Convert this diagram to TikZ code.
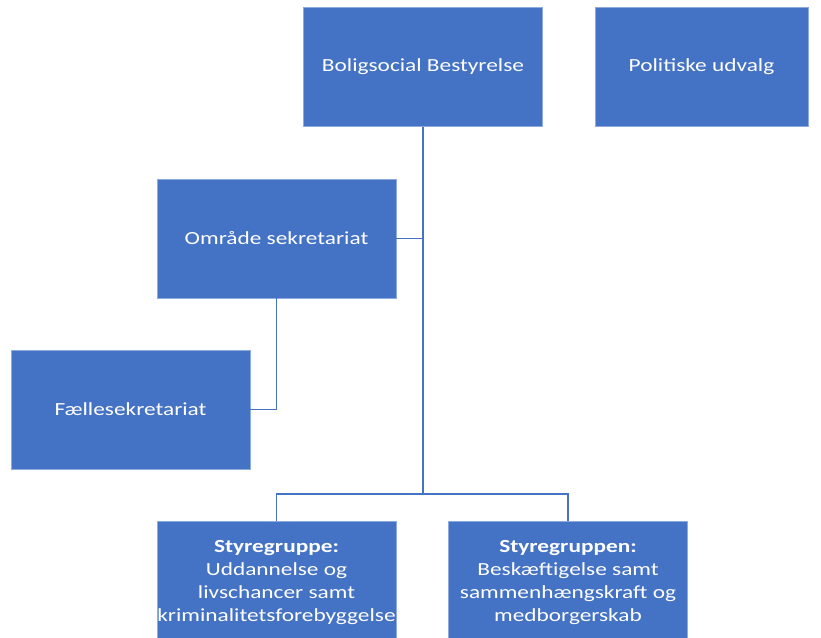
\documentclass[tikz,border=0pt]{standalone}
\usepackage{fontspec}
\setmainfont{Carlito}[FakeStretch=1.26]
\usepackage{tikz}
\definecolor{orgblue}{HTML}{4472C4}
\tikzset{unit/.style = {draw=orgblue!60!white, fill=orgblue, text=white, align=center, minimum width=239pt, minimum height=119pt, inner sep=0pt, font=\fontsize{18.5}{23}\selectfont}}
\tikzset{link/.style = {draw=orgblue, line width=1.5pt}}

\begin{document}
\begin{tikzpicture}[x=1pt, y=-1pt]
\useasboundingbox (0,0) rectangle (821,637);
\clip (0,0) rectangle (821,637);
\node[unit] (bolig) at (423,67) {Boligsocial Bestyrelse};
\node[unit, minimum width=213pt] (udvalg) at (701.5,67) {Politiske udvalg};
\node[unit] (omraade) at (276.5,238.5) {Område sekretariat};
\node[unit] (faelles) at (130.5,409.5) {Fællesekretariat};
\node[unit, anchor=north, minimum height=122pt] (sty1) at (276.5,521) {\textbf{Styregruppe:}\\Uddannelse og\\livschancer samt\\kriminalitetsforebyggelse};
\node[unit, anchor=north, minimum height=122pt] (sty2) at (568,521) {\textbf{Styregruppen:}\\Beskæftigelse samt\\sammenhængskraft og\\medborgerskab};

\coordinate (hub) at (423,494);

\path[link] (bolig.south) -- (hub);
\path[link] (hub) -| (sty1.north);
\path[link] (hub) -| (sty2.north);
\path[link] (omraade.east) -- (omraade.east -| bolig.south);
\path[link] (omraade.south) |- (faelles.east);
\end{tikzpicture}
\end{document}
